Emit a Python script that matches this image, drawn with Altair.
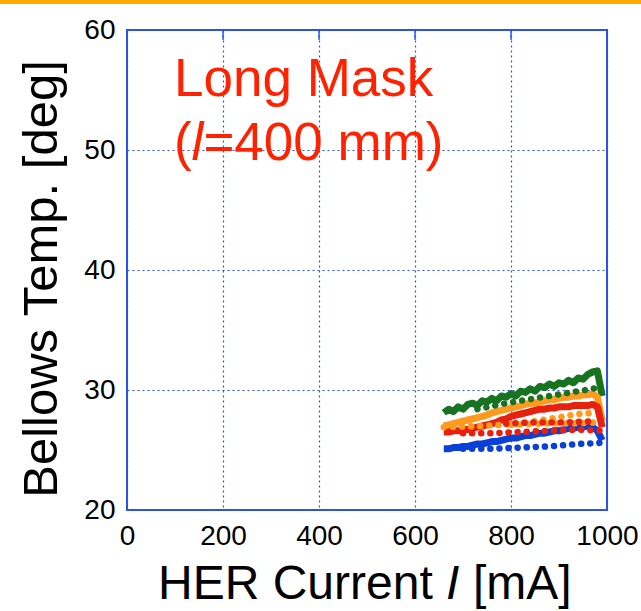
import altair as alt
import pandas as pd

# ---- beam-current scan: bellows temperature vs HER current ----
CURRENT_MA = [660, 670, 680, 690, 700, 710, 720, 730, 740, 750, 760, 770,
              780, 790, 800, 810, 820, 830, 840, 850, 860, 870, 880, 890,
              900, 910, 920, 930, 940, 950, 960, 970, 980, 990]

GREEN_SOLID = [28.1, 28.4, 28.2, 28.6, 28.4, 28.8, 28.9, 28.7, 29.1, 29.0, 29.3, 29.1,
               29.5, 29.4, 29.7, 29.5, 29.9, 29.8, 30.1, 29.9, 30.3, 30.2, 30.5, 30.3,
               30.6, 30.5, 30.8, 30.6, 31.0, 30.9, 31.3, 31.5, 31.6, 29.5]
ORANGE_SOLID = [27.0, 27.1, 27.2, 27.3, 27.4, 27.5, 27.6, 27.7, 27.8, 27.9, 28.1, 28.2,
                28.3, 28.4, 28.5, 28.6, 28.7, 28.8, 28.9, 28.9, 29.0, 29.1, 29.2, 29.2,
                29.3, 29.4, 29.4, 29.5, 29.5, 29.6, 29.6, 29.7, 29.4, 27.4]
RED_SOLID = [26.5, 26.5, 26.6, 26.6, 26.7, 26.7, 26.8, 26.9, 27.0, 27.1, 27.2, 27.3,
             27.5, 27.6, 27.8, 27.9, 28.0, 28.1, 28.2, 28.3, 28.4, 28.4, 28.5, 28.5,
             28.6, 28.6, 28.6, 28.7, 28.7, 28.7, 28.7, 28.8, 28.6, 26.9]
BLUE_SOLID = [25.1, 25.1, 25.2, 25.2, 25.3, 25.3, 25.4, 25.5, 25.5, 25.6, 25.7, 25.7,
              25.8, 25.9, 26.0, 26.0, 26.1, 26.2, 26.2, 26.3, 26.4, 26.4, 26.5, 26.6,
              26.6, 26.7, 26.8, 26.8, 26.9, 26.9, 27.0, 26.9, 26.6, 25.8]

# dotted (second sensor set) series, each with its own current samples
GREEN_DOT_X = [730, 790, 850, 910, 970, 990]
GREEN_DOT_Y = [28.4, 28.9, 29.3, 29.7, 30.1, 30.3]
ORANGE_DOT_A_X = [660, 740, 820, 880, 940, 980]
ORANGE_DOT_A_Y = [26.9, 27.0, 27.2, 27.6, 28.0, 28.1]
ORANGE_DOT_B_X = [800, 860, 920, 980]
ORANGE_DOT_B_Y = [27.1, 27.2, 27.2, 27.3]
RED_DOT_A_X = [700, 760, 820, 880, 940, 990]
RED_DOT_A_Y = [26.4, 26.4, 26.5, 26.6, 26.7, 26.6]
RED_DOT_B_X = [790, 850, 910, 970]
RED_DOT_B_Y = [27.2, 27.3, 27.3, 27.4]
BLUE_DOT_X = [700, 760, 820, 880, 940, 990]
BLUE_DOT_Y = [25.1, 25.1, 25.2, 25.3, 25.5, 25.6]

X_TICKS = [0, 200, 400, 600, 800, 1000]
Y_TICKS = [20, 30, 40, 50, 60]

SERIES = ["green", "orange", "red", "blue"]
COLORS = ["#17731f", "#ff9a1e", "#e8200e", "#0a3fd8"]

FONT = "Liberation Sans, Arial, sans-serif"
FRAME = "#2d52e6"

solid_rows = []
for name, vals in zip(SERIES, [GREEN_SOLID, ORANGE_SOLID, RED_SOLID, BLUE_SOLID]):
    for c, t in zip(CURRENT_MA, vals):
        solid_rows.append({"series": name, "trace": name, "current": c, "temp": t})
solid_df = pd.DataFrame(solid_rows)

dot_rows = []
for name, trace, xs, ys in [
    ("green", "green", GREEN_DOT_X, GREEN_DOT_Y),
    ("orange", "orange_a", ORANGE_DOT_A_X, ORANGE_DOT_A_Y),
    ("orange", "orange_b", ORANGE_DOT_B_X, ORANGE_DOT_B_Y),
    ("red", "red_a", RED_DOT_A_X, RED_DOT_A_Y),
    ("red", "red_b", RED_DOT_B_X, RED_DOT_B_Y),
    ("blue", "blue", BLUE_DOT_X, BLUE_DOT_Y),
]:
    for c, t in zip(xs, ys):
        dot_rows.append({"series": name, "trace": trace, "current": c, "temp": t})
dot_df = pd.DataFrame(dot_rows)

x_scale = alt.Scale(domain=[0, 1000], nice=False, zero=False)
y_scale = alt.Scale(domain=[20, 60], nice=False, zero=False)
color_scale = alt.Scale(domain=SERIES, range=COLORS)

x_axis = alt.Axis(values=X_TICKS, format="d", title=None, labelFont=FONT,
                  labelFontSize=28, labelColor="black", labelPadding=12,
                  labelFlush=False, labelOverlap=False, ticks=False, domain=False,
                  grid=True, gridColor=FRAME, gridDash=[2, 3], gridWidth=1.2)
y_axis = alt.Axis(values=Y_TICKS, format="d", title=None, labelFont=FONT,
                  labelFontSize=28, labelColor="black", labelPadding=12,
                  labelFlush=False, labelOverlap=False, ticks=False, domain=False,
                  grid=True, gridColor=FRAME, gridDash=[2, 3], gridWidth=1.2)

solid = alt.Chart(solid_df).mark_line(strokeWidth=7, strokeJoin="round").encode(
    x=alt.X("current:Q", scale=x_scale, axis=x_axis),
    y=alt.Y("temp:Q", scale=y_scale, axis=y_axis),
    color=alt.Color("series:N", scale=color_scale, legend=None),
    detail="trace:N",
    order="current:Q",
)

dotted = alt.Chart(dot_df).mark_line(
    strokeWidth=6.5, strokeCap="round", strokeDash=[0.1, 9]
).encode(
    x=alt.X("current:Q", scale=x_scale),
    y=alt.Y("temp:Q", scale=y_scale),
    color=alt.Color("series:N", scale=color_scale, legend=None),
    detail="trace:N",
    order="current:Q",
)

# short inward ticks along the top frame
top_ticks = alt.Chart(pd.DataFrame({"tick": X_TICKS})).mark_rule(
    color=FRAME, strokeWidth=1.5
).encode(
    x=alt.X("tick:Q", scale=x_scale),
    y=alt.value(0),
    y2=alt.value(10),
)

one = pd.DataFrame({"k": [0]})

# orange banner rule across the top of the page
banner = alt.Chart(one).mark_rule(color="#ffa800", strokeWidth=4).encode(
    x=alt.value(-127), x2=alt.value(514), y=alt.value(-28)
)


def text(s, x, y, size, color="black", style="normal", align="left", angle=0,
         baseline="alphabetic"):
    return alt.Chart(one).mark_text(
        text=s, font=FONT, fontSize=size, color=color, fontStyle=style,
        align=align, baseline=baseline, angle=angle
    ).encode(x=alt.value(x), y=alt.value(y))


RED = "#ff2200"
annot = [
    text("Long Mask", 47, 66, 53, RED),
    text("(", 47, 130, 53, RED),
    text("l", 64.6, 130, 53, RED, style="italic"),
    text("=400 mm)", 76.4, 130, 53, RED),
]

x_title = [
    text("HER Current", 31, 569, 48),
    text("I", 319, 569, 48, style="italic"),
    text("[mA]", 346, 569, 48),
]

y_title = text("Bellows Temp. [deg]", -70, 249, 49, align="center", angle=270)

chart = alt.layer(
    solid, dotted, top_ticks, banner, *annot, *x_title, y_title
).properties(
    width=480, height=480,
    autosize=alt.AutoSizeParams(type="none"),
    padding={"left": 127, "top": 30, "right": 34, "bottom": 101},
    background="white",
).configure_view(
    stroke=FRAME, strokeWidth=2
)

chart.save("out.html", embed_options={"renderer": "svg", "actions": False})
